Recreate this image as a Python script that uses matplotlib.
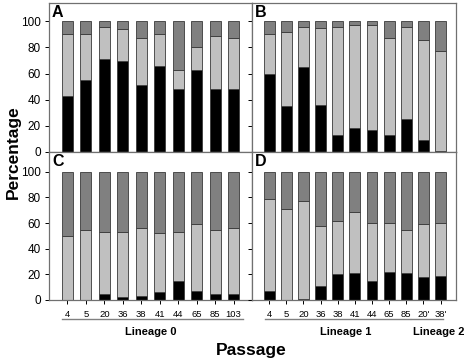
import numpy as np
import matplotlib
matplotlib.use("Agg")
import matplotlib.pyplot as plt
import matplotlib.transforms as mtransforms

plt.rcParams["font.family"] = ["Liberation Sans", "DejaVu Sans"]

# Passages
lineage0 = ["4", "5", "20", "36", "38", "41", "44", "65", "85", "103"]
lineage12 = ["4", "5", "20", "36", "38", "41", "44", "65", "85", "20'", "38'"]

# Panel A: black fraction, and cumulative top of light-gray segment
a_black = [43, 55, 71, 70, 51, 66, 48, 63, 48, 48]
a_light_top = [90, 90, 96, 94, 87, 90, 63, 80, 89, 87]
# Panel B
b_black = [60, 35, 65, 36, 13, 18, 17, 13, 25, 9, 1]
b_light_top = [90, 92, 96, 95, 96, 97, 97, 87, 96, 86, 77]
# Panel C
c_black = [0, 0, 5, 2, 3, 6, 15, 7, 5, 5]
c_light_top = [50, 55, 53, 53, 56, 52, 53, 59, 55, 56]
# Panel D
d_black = [7, 0, 1, 11, 20, 21, 15, 22, 21, 18, 19]
d_light_top = [79, 71, 77, 58, 62, 69, 60, 60, 55, 59, 60]

W, H = 466, 363
fig = plt.figure(figsize=(W / 100, H / 100), dpi=100)

def px_axes(x0, y0, x1, y1):
    return fig.add_axes([x0 / W, 1 - y1 / H, (x1 - x0) / W, (y1 - y0) / H])

axA = px_axes(49, 3, 252, 152)
axB = px_axes(252, 3, 456, 152)
axC = px_axes(49, 152, 252, 300)
axD = px_axes(252, 152, 456, 300)

spine_col = "#707070"
edge_col = "#3a3a3a"

def draw(ax, black, light_top, labels, width, letter, xmax, ymax, bottom_row):
    x = np.arange(1, len(black) + 1)
    black = np.array(black, dtype=float)
    light_top = np.array(light_top, dtype=float)
    ax.bar(x, black, width=width, color="black", edgecolor=edge_col, linewidth=0.6)
    ax.bar(x, light_top - black, bottom=black, width=width, color="#c0c0c0",
           edgecolor=edge_col, linewidth=0.6)
    ax.bar(x, 100 - light_top, bottom=light_top, width=width, color="#808080",
           edgecolor=edge_col, linewidth=0.6)
    ax.set_xlim(0, xmax)
    ax.set_ylim(0, ymax)
    for s in ax.spines.values():
        s.set_color(spine_col)
        s.set_linewidth(0.9)
    ax.set_yticks([0, 20, 40, 60, 80, 100])
    ax.tick_params(axis="y", direction="out", length=3, width=0.7, pad=3,
                   labelsize=8.5, colors="black")
    if bottom_row:
        ax.set_xticks(x)
        ax.set_xticklabels(labels)
        ax.tick_params(axis="x", direction="out", length=3, width=0.7, pad=4.5,
                       labelsize=6.8)
    else:
        ax.set_xticks([])
    ax.text(0.015, 0.985, letter, transform=ax.transAxes, ha="left", va="top",
            fontsize=11.5, fontweight="bold")

draw(axA, a_black, a_light_top, lineage0, 0.6, "A", 11, 114, False)
draw(axB, b_black, b_light_top, lineage12, 0.64, "B", 11.9, 114, False)
draw(axC, c_black, c_light_top, lineage0, 0.6, "C", 11, 115.5, True)
draw(axD, d_black, d_light_top, lineage12, 0.64, "D", 11.9, 115.5, True)

for ax in (axB, axD):
    ax.set_yticklabels([])

# underlines and lineage labels
def underline(ax, x0, x1):
    tr = mtransforms.blended_transform_factory(ax.transData, ax.transAxes)
    ax.plot([x0, x1], [-0.13, -0.13], transform=tr, color="#808080",
            linewidth=1.0, clip_on=False)

def lineage(ax, xc, txt):
    tr = mtransforms.blended_transform_factory(ax.transData, ax.transAxes)
    ax.text(xc, -0.215, txt, transform=tr, ha="center", va="center",
            fontsize=8, fontweight="bold")

underline(axC, 0.69, 10.53)
underline(axD, 0.76, 9.22)
underline(axD, 9.3, 11.15)
lineage(axC, 5.5, "Lineage 0")
lineage(axD, 5.45, "Lineage 1")
lineage(axD, 10.9, "Lineage 2")

fig.text(251 / W, 1 - 351 / H, "Passage", ha="center", va="center",
         fontsize=12.5, fontweight="bold")
fig.text(13 / W, 1 - 152 / H, "Percentage", ha="center", va="center",
         rotation=90, fontsize=12.5, fontweight="bold")

fig.savefig("out.png", dpi=100)
